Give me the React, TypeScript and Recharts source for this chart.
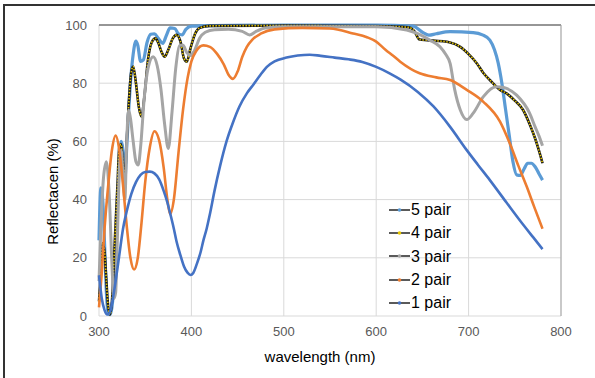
import { LineChart, Line, XAxis, YAxis, CartesianGrid, ReferenceLine } from "recharts";

// wavelength (nm) / reflectance (%)
const pair5Wl = [300, 302, 304, 306, 308, 310, 312, 314, 317, 320, 322, 324, 326, 328, 330, 332, 334, 337, 340, 342, 345, 348, 352, 356, 360, 364, 369, 373, 377, 382, 386, 390, 394, 400, 420, 500, 600, 640, 650, 657, 665, 680, 705, 715, 723, 728, 732, 736, 740, 744, 748, 752, 756, 760, 764, 768, 772, 776, 780];
const pair5R = [26, 44, 40, 25, 8, 1, 0.5, 3, 15, 38, 52, 60, 57, 47, 58, 70, 80, 90, 94.5, 93, 87.5, 88, 94, 96.8, 97, 95.5, 93.7, 96.5, 99, 98.8, 97, 96.6, 98.5, 99.6, 99.8, 100, 100, 99.6, 97.5, 96.5, 97, 97.7, 97.4, 96.6, 94.8, 91.5, 87, 80, 71, 62, 53, 48.5, 48.3, 50.5, 52.5, 52.5, 51.3, 49, 46.7];

const pair4Wl = [300, 302, 304, 306, 308, 310, 312, 314, 317, 320, 322, 324, 326, 328, 330, 332, 335, 337, 340, 343, 346, 349, 353, 357, 361, 364, 368, 371, 375, 380, 384, 388, 392, 395, 399, 404, 409, 420, 500, 600, 635, 641, 647, 655, 680, 691, 700, 709, 716, 723, 734, 741, 750, 759, 766, 772, 776, 780];
const pair4R = [5, 15, 25, 22, 12, 3, 0.5, 5, 25, 45, 58, 59, 52, 48, 60, 72, 84, 85.7, 80, 72, 68.5, 75, 88, 94, 95.4, 94, 90.5, 89.1, 91.5, 95.5, 96.6, 94.5, 88.5, 87.4, 92, 97, 99, 99.7, 99.8, 99.6, 99.2, 98, 95, 94.8, 94, 92.5, 90, 86.8, 83.5, 81.1, 77.7, 76.5, 74, 70.8, 66, 61, 57, 52.5];

const pair3Wl = [300, 302, 305, 308, 311, 314, 316, 318, 320, 322, 324, 326, 328, 330, 332, 334, 337, 340, 342.5, 345, 349, 353, 358.6, 363, 367, 371, 375, 379, 383, 387.7, 391, 395, 399, 403, 409, 415, 425, 440, 455, 463, 470, 480, 500, 600, 633, 645, 658, 669, 675, 680, 685, 691, 698, 705, 716, 730, 738, 752, 766, 772, 776, 780];
const pair3R = [12, 30, 48, 53, 42, 18, 6, 8, 28, 50, 57, 48, 40, 60, 70.8, 68, 60, 53, 51.9, 58, 75, 85, 89.1, 86, 78, 66, 57.6, 70, 85, 93, 93, 90.5, 89.5, 91, 95.5, 97.5, 98.4, 98.5, 97.8, 96.6, 97.8, 99, 99.4, 99.4, 98.3, 97, 94.8, 92.5, 90, 86.8, 77.7, 70.8, 67.5, 69.7, 75.4, 78.8, 78.5, 75.9, 69.7, 65, 62, 58.5];

const pair2Wl = [300, 303, 306, 310, 314, 318, 322, 326, 330, 334, 338, 342, 346, 350, 355, 360, 365, 370, 374, 377, 381, 386, 391, 396, 400, 405, 413, 420, 428, 435, 440, 445, 450, 455, 460, 466, 475, 490, 520, 550, 575, 590, 600, 610, 618, 626, 647, 665, 680, 698, 716, 734, 745, 754, 763, 771, 780];
const pair2R = [3, 15, 30, 45, 57, 62, 57, 45, 31, 20, 16, 20, 32, 46, 58, 63.5, 60.5, 51, 40, 35, 40, 56, 71, 82, 87.5, 91, 93, 92.5, 90, 86.5, 83, 81.5, 84, 89, 92.5, 95, 97, 98.5, 99, 98.8, 97.1, 95.8, 94.3, 91.5, 89.5, 87.4, 83.4, 82, 81.1, 77.7, 73.6, 66.8, 59, 51.5, 44.4, 37.5, 30];

const pair1Wl = [300, 303, 306, 309, 312, 315, 318, 322, 326, 330, 335, 340, 345, 350, 355, 360, 365, 370, 374, 377, 381, 384, 388, 392, 396, 399, 402, 406, 410, 413, 416.5, 420, 425, 431, 438, 445, 452, 460, 467, 475, 482, 490, 503, 515, 528, 540, 555, 570, 585, 600, 615, 626, 645, 662, 680, 698, 710, 723, 741, 760, 770, 780];
const pair1R = [14, 6, 2, 0.5, 1.5, 6, 12, 21, 30, 36, 42, 46, 48.5, 49.5, 49.6, 49, 47, 43, 39, 35.3, 30, 25.5, 21, 17, 14.8, 14.1, 14.8, 18, 22, 26, 30, 35, 43, 51.5, 60, 66.5, 72, 76.5, 79.5, 83, 85.7, 87.5, 88.8, 89.5, 89.8, 89.4, 88.8, 88.2, 87.3, 85.6, 83.3, 81.3, 77, 72, 65, 57, 52, 46.7, 39, 31, 27, 23];

const xTicks = [300, 400, 500, 600, 700, 800];
const yTicks = [0, 20, 40, 60, 80, 100];

const seriesNames = ["5 pair", "4 pair", "3 pair", "2 pair", "1 pair"];
const seriesColors = ["#5B9BD5", "#E8C800", "#A5A5A5", "#ED7D31", "#4472C4"];

const toPoints = (wl: number[], r: number[]) => wl.map((w, i) => ({ wl: w, r: r[i] }));

const pair5 = toPoints(pair5Wl, pair5R);
const pair4 = toPoints(pair4Wl, pair4R);
const pair3 = toPoints(pair3Wl, pair3R);
const pair2 = toPoints(pair2Wl, pair2R);
const pair1 = toPoints(pair1Wl, pair1R);

const FONT = "'Liberation Sans', Arial, sans-serif";

function LegendBox() {
  return (
    <div
      style={{
        position: "absolute",
        left: 389,
        top: 198,
        fontFamily: FONT,
        fontSize: 16,
        color: "#000",
        lineHeight: "23.3px",
      }}
    >
      {seriesNames.map((name, i) => (
        <div key={name} style={{ display: "flex", alignItems: "center" }}>
          <svg width={21} height={10} style={{ marginRight: 1 }}>
            <line x1={0} y1={5} x2={21} y2={5} stroke="#000" strokeWidth={1.3} />
            <circle cx={10.5} cy={5} r={1.8} fill={seriesColors[i]} />
          </svg>
          <span>{name}</span>
        </div>
      ))}
    </div>
  );
}

export default function App() {
  return (
    <div style={{ position: "fixed", left: 0, top: 0, width: 595, height: 378, background: "#fff", overflow: "hidden" }}>
      <div
        style={{
          position: "absolute",
          left: 3,
          top: 4,
          width: 600,
          height: 400,
          borderLeft: "2px solid #333",
          borderTop: "2px solid #333",
        }}
      />
      <LineChart
        width={595}
        height={378}
        margin={{ top: 25, right: 34, bottom: 32, left: 0 }}
        style={{ position: "absolute", left: 0, top: 0 }}
      >
        <CartesianGrid stroke="#D9D9D9" strokeWidth={1} />
        <XAxis
          type="number"
          dataKey="wl"
          domain={[300, 800]}
          ticks={xTicks}
          height={30}
          axisLine={false}
          tickLine={false}
          tickSize={0}
          tickMargin={11}
          tick={{ fill: "#595959", fontSize: 13, fontFamily: FONT }}
          label={({ viewBox }: any) => (
            <text
              x={viewBox.x + viewBox.width / 2 - 10}
              y={362}
              textAnchor="middle"
              fontSize={15}
              fontFamily={FONT}
              fill="#000"
            >
              wavelength (nm)
            </text>
          )}
        />
        <YAxis
          type="number"
          domain={[0, 100]}
          ticks={yTicks}
          width={99}
          axisLine={false}
          tickLine={false}
          tickSize={0}
          tickMargin={12}
          tick={{ fill: "#595959", fontSize: 13, fontFamily: FONT }}
          label={({ viewBox }: any) => {
            const cx = 52;
            const cy = viewBox.y + viewBox.height / 2 + 21;
            return (
              <text
                x={cx}
                y={cy}
                transform={`rotate(-90 ${cx} ${cy})`}
                textAnchor="middle"
                dominantBaseline="central"
                fontSize={15}
                fontFamily={FONT}
                fill="#000"
              >
                Reflectacen (%)
              </text>
            );
          }}
        />
        <ReferenceLine y={100} stroke="#404040" strokeWidth={1} />
        <ReferenceLine x={800} stroke="#A6A6A6" strokeWidth={1} />
        <Line data={pair5} dataKey="r" type="monotone" stroke={seriesColors[0]} strokeWidth={3.2} dot={false} isAnimationActive={false} />
        <Line data={pair4} dataKey="r" type="monotone" stroke="#1a1a1a" strokeWidth={2.6} dot={false} isAnimationActive={false} />
        <Line data={pair4} dataKey="r" type="monotone" stroke={seriesColors[1]} strokeWidth={1.6} strokeDasharray="1.4 1.6" dot={false} isAnimationActive={false} />
        <Line data={pair3} dataKey="r" type="monotone" stroke={seriesColors[2]} strokeWidth={3} dot={false} isAnimationActive={false} />
        <Line data={pair2} dataKey="r" type="monotone" stroke={seriesColors[3]} strokeWidth={2.6} dot={false} isAnimationActive={false} />
        <Line data={pair1} dataKey="r" type="monotone" stroke={seriesColors[4]} strokeWidth={2.6} dot={false} isAnimationActive={false} />
      </LineChart>
      <LegendBox />
    </div>
  );
}
